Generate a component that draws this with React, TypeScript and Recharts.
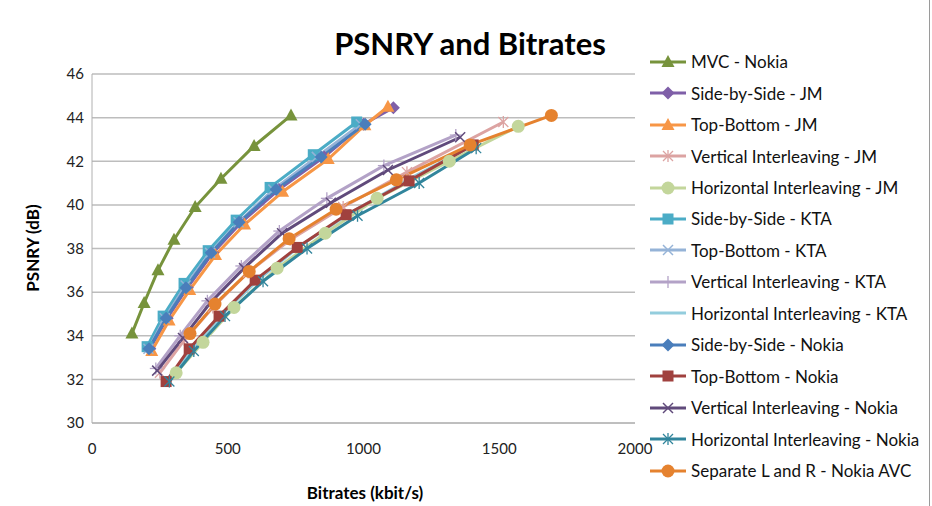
import { LineChart, Line, XAxis, YAxis, CartesianGrid } from "recharts";

const xTicks = [0, 500, 1000, 1500, 2000];
const yTicks = [30, 32, 34, 36, 38, 40, 42, 44, 46];

// kbit/s and dB per codec set-up
const mvcNokiaRate = [147, 192, 243, 302, 380, 475, 597, 733];
const mvcNokiaPsnr = [34.1, 35.5, 37.0, 38.4, 39.9, 41.2, 42.7, 44.1];

const sbsJmRate = [213, 277, 351, 445, 550, 688, 855, 1000, 1110];
const sbsJmPsnr = [33.4, 34.8, 36.2, 37.8, 39.2, 40.7, 42.2, 43.7, 44.45];

const tbJmRate = [220, 284, 360, 455, 562, 702, 870, 1005, 1090];
const tbJmPsnr = [33.3, 34.7, 36.1, 37.7, 39.1, 40.6, 42.1, 43.65, 44.5];

const viJmRate = [250, 340, 445, 575, 730, 925, 1160, 1515];
const viJmPsnr = [32.3, 33.8, 35.3, 36.9, 38.4, 39.9, 41.5, 43.8];

const hiJmRate = [310, 409, 523, 682, 859, 1050, 1316, 1570];
const hiJmPsnr = [32.3, 33.7, 35.3, 37.1, 38.7, 40.3, 42.0, 43.6];

const sbsKtaRate = [203, 262, 339, 428, 531, 656, 815, 975];
const sbsKtaPsnr = [33.5, 34.9, 36.4, 37.9, 39.3, 40.8, 42.3, 43.8];

const tbKtaRate = [208, 268, 345, 435, 540, 668, 828, 990];
const tbKtaPsnr = [33.4, 34.8, 36.3, 37.8, 39.2, 40.7, 42.2, 43.7];

const viKtaRate = [235, 325, 425, 550, 690, 865, 1075, 1340];
const viKtaPsnr = [32.5, 34.0, 35.6, 37.2, 38.8, 40.3, 41.8, 43.2];

const hiKtaRate = [280, 370, 480, 615, 775, 960, 1185, 1400];
const hiKtaPsnr = [32.0, 33.4, 35.0, 36.6, 38.2, 39.7, 41.3, 42.7];

const sbsNokiaRate = [210, 273, 346, 439, 542, 678, 844, 1006];
const sbsNokiaPsnr = [33.4, 34.8, 36.2, 37.8, 39.2, 40.7, 42.2, 43.7];

const tbNokiaRate = [273, 358, 468, 601, 756, 936, 1168, 1404];
const tbNokiaPsnr = [31.9, 33.4, 34.9, 36.55, 38.05, 39.55, 41.1, 42.75];

const viNokiaRate = [240, 335, 435, 560, 700, 880, 1090, 1356];
const viNokiaPsnr = [32.4, 33.9, 35.5, 37.1, 38.7, 40.1, 41.6, 43.1];

const hiNokiaRate = [285, 375, 490, 630, 792, 978, 1205, 1415];
const hiNokiaPsnr = [31.9, 33.3, 34.9, 36.5, 38.0, 39.5, 41.0, 42.6];

const sepAvcRate = [361, 453, 579, 726, 899, 1121, 1393, 1692];
const sepAvcPsnr = [34.1, 35.45, 36.95, 38.45, 39.8, 41.15, 42.75, 44.1];

type Shape = "triangle" | "diamond" | "square" | "circle" | "cross" | "star" | "plus" | "none";

const series: { name: string; color: string; shape: Shape; rate: number[]; psnr: number[] }[] = [
  { name: "MVC - Nokia", color: "#77933C", shape: "triangle", rate: mvcNokiaRate, psnr: mvcNokiaPsnr },
  { name: "Side-by-Side - JM", color: "#7F5FA8", shape: "diamond", rate: sbsJmRate, psnr: sbsJmPsnr },
  { name: "Top-Bottom - JM", color: "#F79646", shape: "triangle", rate: tbJmRate, psnr: tbJmPsnr },
  { name: "Vertical Interleaving - JM", color: "#DCA3A2", shape: "star", rate: viJmRate, psnr: viJmPsnr },
  { name: "Horizontal Interleaving - JM", color: "#C3D69B", shape: "circle", rate: hiJmRate, psnr: hiJmPsnr },
  { name: "Side-by-Side - KTA", color: "#4BACC6", shape: "square", rate: sbsKtaRate, psnr: sbsKtaPsnr },
  { name: "Top-Bottom - KTA", color: "#95B3D7", shape: "cross", rate: tbKtaRate, psnr: tbKtaPsnr },
  { name: "Vertical Interleaving - KTA", color: "#B3A2C7", shape: "plus", rate: viKtaRate, psnr: viKtaPsnr },
  { name: "Horizontal Interleaving - KTA", color: "#93CDDD", shape: "none", rate: hiKtaRate, psnr: hiKtaPsnr },
  { name: "Side-by-Side - Nokia", color: "#4A7EBB", shape: "diamond", rate: sbsNokiaRate, psnr: sbsNokiaPsnr },
  { name: "Top-Bottom - Nokia", color: "#A0413E", shape: "square", rate: tbNokiaRate, psnr: tbNokiaPsnr },
  { name: "Vertical Interleaving - Nokia", color: "#604A7B", shape: "cross", rate: viNokiaRate, psnr: viNokiaPsnr },
  { name: "Horizontal Interleaving - Nokia", color: "#31859C", shape: "star", rate: hiNokiaRate, psnr: hiNokiaPsnr },
  { name: "Separate L and R - Nokia AVC", color: "#E5822F", shape: "circle", rate: sepAvcRate, psnr: sepAvcPsnr },
];

function Marker({ cx, cy, shape, color }: { cx: number; cy: number; shape: Shape; color: string }) {
  if (cx == null || cy == null) return null;
  switch (shape) {
    case "triangle":
      return <polygon points={`${cx},${cy - 7} ${cx + 6.5},${cy + 5} ${cx - 6.5},${cy + 5}`} fill={color} />;
    case "diamond":
      return <polygon points={`${cx},${cy - 6.5} ${cx + 6.5},${cy} ${cx},${cy + 6.5} ${cx - 6.5},${cy}`} fill={color} />;
    case "square":
      return <rect x={cx - 5.5} y={cy - 5.5} width={11} height={11} fill={color} />;
    case "circle":
      return <circle cx={cx} cy={cy} r={6.5} fill={color} />;
    case "cross":
      return (
        <g stroke={color} strokeWidth={1.5}>
          <line x1={cx - 5} y1={cy - 5} x2={cx + 5} y2={cy + 5} />
          <line x1={cx - 5} y1={cy + 5} x2={cx + 5} y2={cy - 5} />
        </g>
      );
    case "star":
      return (
        <g stroke={color} strokeWidth={1.3}>
          <line x1={cx - 5} y1={cy - 5} x2={cx + 5} y2={cy + 5} />
          <line x1={cx - 5} y1={cy + 5} x2={cx + 5} y2={cy - 5} />
          <line x1={cx} y1={cy - 6} x2={cx} y2={cy + 6} />
        </g>
      );
    case "plus":
      return (
        <g stroke={color} strokeWidth={1.3}>
          <line x1={cx - 6} y1={cy} x2={cx + 6} y2={cy} />
          <line x1={cx} y1={cy - 6} x2={cx} y2={cy + 6} />
        </g>
      );
    default:
      return null;
  }
}

const font = "Lato, 'Liberation Sans', sans-serif";

export default function App() {
  return (
    <div style={{ position: "absolute", left: 0, top: 0, width: 932, height: 506, background: "#fff", fontFamily: font }}>
      <div style={{ position: "absolute", left: 470, top: 24, transform: "translateX(-50%)", fontSize: 31, fontWeight: 700, whiteSpace: "nowrap" }}>
        PSNRY and Bitrates
      </div>
      <LineChart width={932} height={506} margin={{ top: 74, right: 297, bottom: 53, left: 40 }}>
        <CartesianGrid horizontal vertical={false} stroke="#BDBDBD" strokeWidth={1.5} />
        <XAxis
          type="number"
          dataKey="x"
          domain={[0, 2000]}
          ticks={xTicks}
          height={30}
          tickLine={false}
          tickMargin={14}
          stroke="#B0B0B0"
          tick={{ fill: "#222", fontSize: 15, fontFamily: font }}
        />
        <YAxis
          type="number"
          domain={[30, 46]}
          ticks={yTicks}
          width={52}
          tickLine={false}
          stroke="#B0B0B0"
          tick={{ fill: "#222", fontSize: 15, fontFamily: font }}
        />
        {series.map((s) => (
          <Line
            key={s.name}
            name={s.name}
            data={s.rate.map((r, i) => ({ x: r, y: s.psnr[i] }))}
            dataKey="y"
            stroke={s.color}
            strokeWidth={3}
            isAnimationActive={false}
            dot={
              s.shape === "none"
                ? false
                : (p: any) => <Marker key={`${s.name}-${p.index}`} cx={p.cx} cy={p.cy} shape={s.shape} color={s.color} />
            }
            activeDot={false}
          />
        ))}
      </LineChart>
      <div style={{ position: "absolute", left: 32, top: 248, width: 0, height: 0 }}>
        <div
          style={{
            position: "absolute",
            left: 0,
            top: 0,
            transform: "translate(-50%, -50%) rotate(-90deg)",
            fontSize: 17,
            fontWeight: 700,
            whiteSpace: "nowrap",
          }}
        >
          PSNRY (dB)
        </div>
      </div>
      <div style={{ position: "absolute", left: 365, top: 482, transform: "translateX(-50%)", fontSize: 17, fontWeight: 700, whiteSpace: "nowrap" }}>
        Bitrates (kbit/s)
      </div>
      <div style={{ position: "absolute", left: 648, top: 46 }}>
        {series.map((s) => (
          <div key={s.name} style={{ display: "flex", alignItems: "center", height: 31.46, fontSize: 17, color: "#111", whiteSpace: "nowrap" }}>
            <svg width={42} height={16} style={{ marginRight: 1 }}>
              <line x1={2} y1={8} x2={38} y2={8} stroke={s.color} strokeWidth={3} />
              <Marker cx={20} cy={8} shape={s.shape} color={s.color} />
            </svg>
            <span>{s.name}</span>
          </div>
        ))}
      </div>
      <div style={{ position: "absolute", left: 929, top: 0, width: 1, height: 506, background: "#9a9a9a" }} />
    </div>
  );
}
